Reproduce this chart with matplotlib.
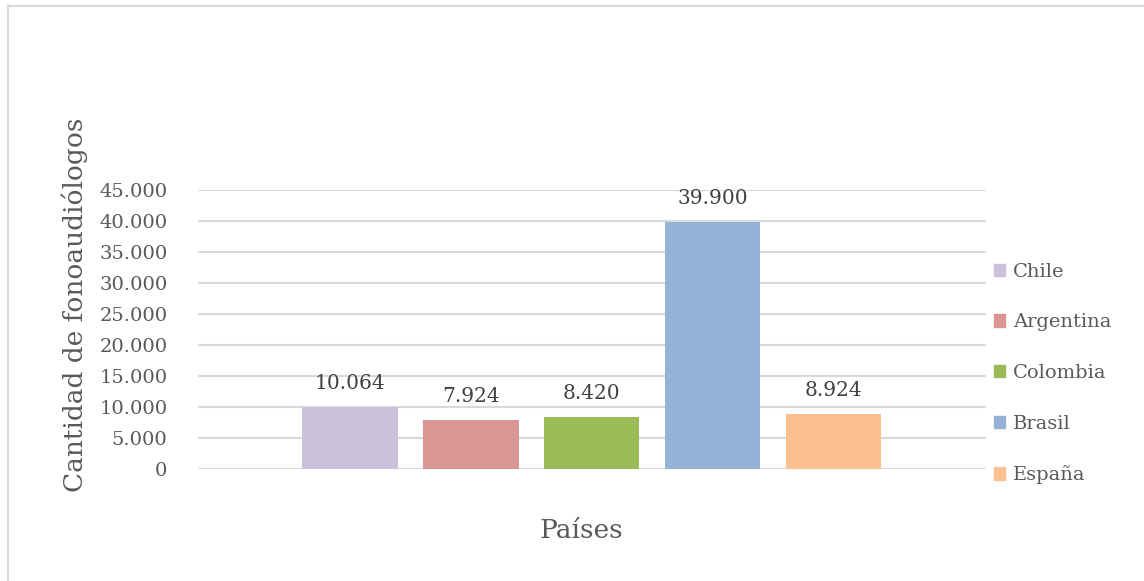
import numpy as np
import matplotlib.pyplot as plt
from matplotlib.lines import Line2D

paises = ["Chile", "Argentina", "Colombia", "Brasil", "España"]
fonoaudiologos = [10064, 7924, 8420, 39900, 8924]
colores = ["#CBC1DA", "#D99694", "#9BBB59", "#95B3D7", "#FAC090"]
yticks = list(range(0, 45001, 5000))

TXT = "#595959"
plt.rcParams["font.family"] = ["DejaVu Serif"]


def miles(v):
    # separador de miles con punto
    return f"{v:,.0f}".replace(",", ".")


fig = plt.figure(figsize=(11.44, 5.81), dpi=100)
W, H = 1144, 581
# plot area in pixel coordinates
x0, x1, ytop, ybot = 198, 986, 190, 469
ax = fig.add_axes([x0 / W, 1 - ybot / H, (x1 - x0) / W, (ybot - ytop) / H])

pos = np.arange(len(paises))
bars = ax.bar(pos, fonoaudiologos, width=0.79, color=colores, zorder=3)
for b, v in zip(bars, fonoaudiologos):
    ax.text(b.get_x() + b.get_width() / 2, v + 2250, miles(v),
            ha="center", va="bottom", fontsize=14.5, color="#404040")

ax.set_xlim(-1.255, 5.26)
ax.set_ylim(0, 45000)
ax.set_yticks(yticks)
ax.set_yticklabels([miles(t) for t in yticks], fontsize=14, color=TXT)
ax.set_xticks([])
ax.tick_params(axis="y", length=0, pad=22)
ax.grid(axis="y", color="#D9D9D9", linewidth=1.5, zorder=0)
for s in ax.spines.values():
    s.set_visible(False)

fig.text(75 / W, 1 - 305 / H, "Cantidad de fonoaudiólogos", rotation=90,
         ha="center", va="center", fontsize=19, color=TXT)
fig.text(581 / W, 1 - 530 / H, "Países", ha="center", va="center",
         fontsize=19, color=TXT)

handles = [plt.Rectangle((0, 0), 1, 1, color=c) for c in colores]
leg = fig.legend(handles, paises, loc="upper left",
                 bbox_to_anchor=(986 / W, 1 - 255 / H), frameon=False,
                 fontsize=14, handlelength=0.6, handleheight=0.6,
                 handletextpad=0.4, labelspacing=1.68, borderaxespad=0)
for t in leg.get_texts():
    t.set_color(TXT)

# outer chart border (left and top only visible)
fig.add_artist(Line2D([8 / W, 8 / W], [0, 1 - 6 / H], color="#D9D9D9",
                      linewidth=1.5, transform=fig.transFigure))
fig.add_artist(Line2D([8 / W, 1], [1 - 6 / H, 1 - 6 / H], color="#D9D9D9",
                      linewidth=1.5, transform=fig.transFigure))

fig.savefig("out.png", dpi=100)
